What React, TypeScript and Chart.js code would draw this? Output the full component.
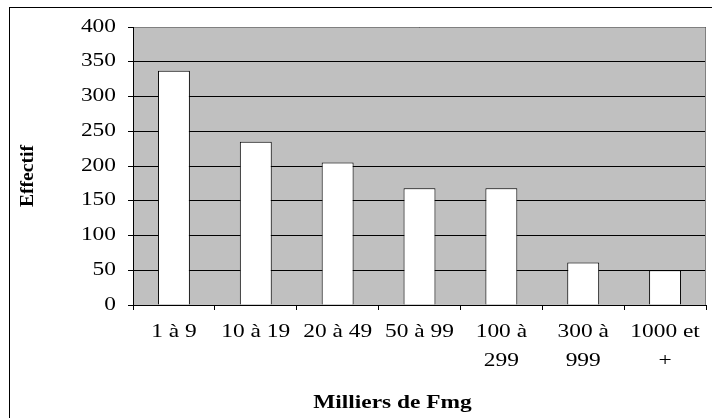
import { useEffect, useRef } from 'react';
import { Chart, registerables } from 'chart.js';

Chart.register(...registerables);

const categories: string[][] = [
  ['1 à 9'],
  ['10 à 19'],
  ['20 à 49'],
  ['50 à 99'],
  ['100 à', '299'],
  ['300 à', '999'],
  ['1000 et', '+'],
];
const values: number[] = [337, 235, 205, 168, 168, 61, 50];
const yMin = 0;
const yMax = 400;
const yStep = 50;
const xTitle = 'Milliers de Fmg';
const yTitle = 'Effectif';

const FONT = '"Liberation Serif", "Times New Roman", serif';
const SX = 1.3;

export default function App() {
  const ref = useRef<HTMLCanvasElement>(null);

  useEffect(() => {
    document.body.style.margin = '0';
    const canvas = ref.current!;
    const c2d = canvas.getContext('2d')!;
    const origFill = c2d.fillText.bind(c2d);
    (c2d as any).fillText = (text: string, x: number, y: number, maxWidth?: number) => {
      c2d.save();
      c2d.translate(x, y);
      c2d.scale(SX, 1);
      if (maxWidth === undefined || maxWidth === null) origFill(text, 0, 0);
      else origFill(text, 0, 0, maxWidth / SX);
      c2d.restore();
    };

    const decor = {
      id: 'decor',
      beforeDraw(chart: any) {
        const { ctx, chartArea } = chart;
        const { left, top, right, bottom } = chartArea;
        ctx.save();
        ctx.fillStyle = '#ffffff';
        ctx.fillRect(0, 0, chart.width, chart.height);
        ctx.fillStyle = '#c0c0c0';
        ctx.fillRect(left, top, right - left, bottom - top);
        ctx.strokeStyle = '#000000';
        ctx.lineWidth = 1;
        ctx.strokeRect(9.5, 7.5, chart.width + 40, chart.height + 40);
        ctx.restore();
      },
      afterDraw(chart: any) {
        const { ctx, chartArea } = chart;
        const { left, top, right, bottom } = chartArea;
        ctx.save();
        ctx.strokeStyle = '#808080';
        ctx.lineWidth = 1;
        ctx.beginPath();
        ctx.moveTo(left + 1, top + 0.5);
        ctx.lineTo(right - 0.5, top + 0.5);
        ctx.lineTo(right - 0.5, bottom);
        ctx.stroke();

        ctx.fillStyle = '#000000';
        ctx.font = `bold 18px ${FONT}`;
        ctx.textAlign = 'center';
        ctx.textBaseline = 'alphabetic';
        // x title (stretched through patched fillText)
        ctx.fillText(xTitle, (left + right) / 2 - 27, chart.height - 10);
        // y title
        ctx.save();
        ctx.translate(33, (top + bottom) / 2 + 10);
        ctx.rotate(-Math.PI / 2);
        ctx.scale(1.09, 1);
        origFill(yTitle, 0, 0);
        ctx.restore();
        ctx.restore();
      },
    };

    const chart = new Chart(canvas, {
      type: 'bar',
      data: {
        labels: categories,
        datasets: [
          {
            data: values,
            backgroundColor: '#ffffff',
            borderColor: '#000000',
            borderWidth: 1,
            barPercentage: 0.39,
            categoryPercentage: 1,
          },
        ],
      },
      options: {
        responsive: false,
        animation: false,
        layout: { padding: { top: 27, right: 6, left: 0, bottom: 0 } },
        plugins: {
          legend: { display: false },
          tooltip: { enabled: false },
          title: { display: false },
        },
        scales: {
          x: {
            offset: true,
            grid: {
              display: true,
              offset: true,
              drawOnChartArea: false,
              drawTicks: true,
              tickLength: 5,
              color: '#000000',
            },
            border: { display: true, color: '#000000', width: 1 },
            ticks: {
              color: '#000000',
              font: { family: FONT, size: 18, lineHeight: 1.6 },
              padding: 8,
              maxRotation: 0,
              minRotation: 0,
              autoSkip: false,
            },
            afterFit: (s: any) => {
              s.height = 113;
            },
          },
          y: {
            min: yMin,
            max: yMax,
            ticks: {
              stepSize: yStep,
              color: '#000000',
              font: { family: FONT, size: 18 },
              padding: 12,
            },
            grid: { color: '#000000', tickLength: 5, drawTicks: true },
            border: { display: true, color: '#000000', width: 1 },
            afterFit: (s: any) => {
              s.width = 133;
            },
          },
        },
      },
      plugins: [decor],
    });

    return () => {
      chart.destroy();
    };
  }, []);

  return <canvas ref={ref} width={712} height={418} style={{ display: 'block' }} />;
}
